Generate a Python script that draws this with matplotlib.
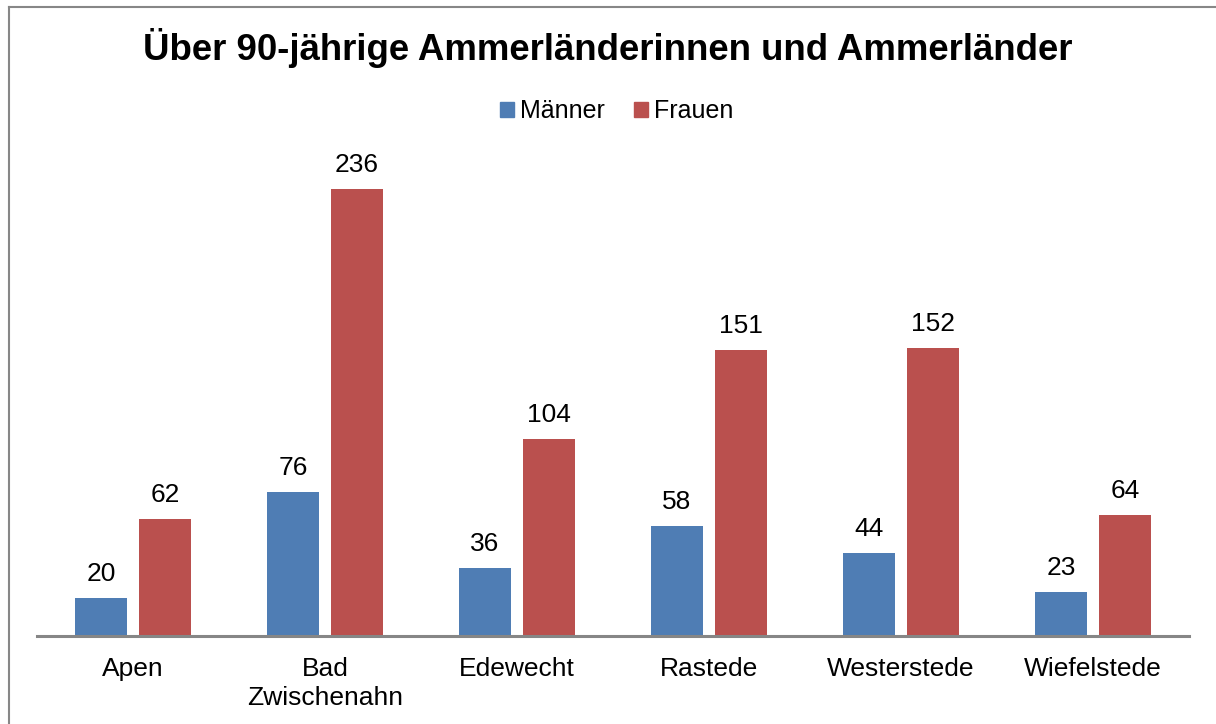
import matplotlib
matplotlib.use("Agg")
import matplotlib.pyplot as plt
from matplotlib.lines import Line2D
from matplotlib.patches import Patch
import numpy as np

categories = ["Apen", "Bad\nZwischenahn", "Edewecht", "Rastede", "Westerstede", "Wiefelstede"]
maenner = [20, 76, 36, 58, 44, 23]
frauen = [62, 236, 104, 151, 152, 64]
series_names = ["Männer", "Frauen"]
colors = ["#4F7DB4", "#BA504E"]
title = "Über 90-jährige Ammerländerinnen und Ammerländer"

plt.rcParams['font.family'] = ['Liberation Sans', 'DejaVu Sans']

W, H = 1216, 724
fig = plt.figure(figsize=(W / 100, H / 100), dpi=100)
ax = fig.add_axes([37 / W, (H - 636) / H, (1189 - 37) / W, (636 - 150) / H])

x = np.arange(len(categories))
bw = 52 / 192
off = 32 / 192
b1 = ax.bar(x - off, maenner, bw, color=colors[0], label=series_names[0])
b2 = ax.bar(x + off, frauen, bw, color=colors[1], label=series_names[1])

for bars, vals in ((b1, maenner), (b2, frauen)):
    for rect, v in zip(bars, vals):
        ax.annotate(str(v), (rect.get_x() + rect.get_width() / 2, v),
                    xytext=(0, 12), textcoords="offset pixels",
                    ha="center", va="bottom", fontsize=19, color="black")

ax.set_xlim(-0.5, len(categories) - 0.5)
ax.set_ylim(0, (636 - 150) / (447 / 236))
ax.set_yticks([])
for s in ("left", "right", "top"):
    ax.spines[s].set_visible(False)
ax.spines["bottom"].set_color("#868686")
ax.spines["bottom"].set_linewidth(2.2)
ax.set_xticks(x)
ax.set_xticklabels(categories, fontsize=19, linespacing=1.25)
ax.tick_params(axis="x", length=0, pad=15)

fig.text(0.5, 1 - 48 / H, title, ha="center", va="center",
         fontsize=26.4, fontweight="bold")

handles = [Patch(color=c) for c in colors]
leg = fig.legend(handles, series_names, loc="center", bbox_to_anchor=(617 / W, 1 - 111 / H),
                 ncol=2, frameon=False, fontsize=18, handlelength=0.56, handleheight=0.56,
                 handletextpad=0.24, columnspacing=1.16)

fig.add_artist(Line2D([8.5 / W, 8.5 / W], [0, 1 - 6.5 / H], color="#878787", lw=1.5))
fig.add_artist(Line2D([8.5 / W, 1], [1 - 6.5 / H, 1 - 6.5 / H], color="#878787", lw=1.5))

fig.savefig("out.png", dpi=100)
